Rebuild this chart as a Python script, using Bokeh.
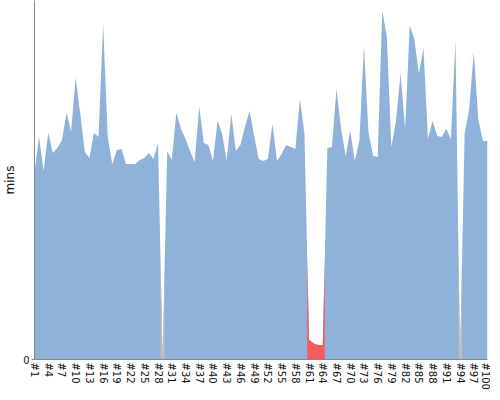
import numpy as np
from bokeh.plotting import figure
from bokeh.models import Range1d, FixedTicker
from bokeh.embed import file_html
from bokeh.resources import INLINE

# ---- data -------------------------------------------------------------
runs = list(range(1, 101))
mins = [
    18.7, 22.2, 18.8, 22.6, 20.6, 21.1, 21.9, 24.6, 22.7, 28.1,
    24.5, 20.7, 20.1, 22.6, 22.2, 33.5, 22.2, 19.5, 20.9, 21.0,
    19.5, 19.5, 19.5, 19.9, 20.1, 20.6, 20.0, 21.6, 0.0, 20.8,
    19.9, 24.6, 23.0, 22.0, 20.8, 19.7, 25.2, 21.6, 21.4, 19.8,
    23.8, 22.5, 19.8, 24.5, 20.8, 21.4, 23.2, 24.8, 22.3, 20.0,
    19.8, 20.0, 23.5, 19.8, 20.5, 21.4, 21.2, 21.0, 26.0, 22.5,
    2.0, 1.6, 1.45, 1.43, 21.1, 21.2, 27.0, 23.0, 20.3, 22.8,
    19.8, 21.8, 31.3, 22.6, 20.3, 20.2, 34.8, 32.2, 21.2, 23.8,
    28.5, 23.0, 33.3, 32.0, 28.5, 31.1, 22.0, 23.8, 22.3, 22.2,
    23.0, 22.0, 31.8, 0.0, 22.5, 25.0, 30.7, 23.9, 21.8, 21.8,
]
tick_runs = [1, 4, 7, 10, 13, 16, 19, 22, 25, 28, 31, 34, 37, 40, 43, 46, 49,
             52, 55, 58, 61, 64, 67, 70, 73, 76, 79, 82, 85, 88, 91, 94, 97, 100]
tick_labels = ["#1", "#4", "#7", "#10", "#13", "#16", "#19", "#22", "#25", "#28",
               "#31", "#34", "#37", "#40", "#43", "#46", "#49", "#52", "#55", "#58",
               "#61", "#64", "#67", "#70", "#73", "#76", "#79", "#82", "#85", "#88",
               "#91", "#94", "#97", "#100"]
low_limit = 10.0   # below this the area is drawn red (or grey where the run is 0)

BLUE = "#8fb2db"
RED = "#f45b5b"
GREY = "#bdbdbd"

# ---- figure -----------------------------------------------------------
p = figure(width=490, height=392, output_backend="svg", toolbar_location=None,
           x_range=Range1d(1, 100), y_range=Range1d(0, 35.8),
           min_border_left=0, min_border_right=3, min_border_top=0, min_border_bottom=0)
p.outline_line_color = None
p.xgrid.visible = False
p.ygrid.visible = False
p.background_fill_color = "white"

x = np.array(runs, dtype=float)
y = np.array(mins, dtype=float)

p.varea(x=x, y1=0, y2=y, fill_color=BLUE, fill_alpha=1.0)

# low-value stretches, cut where the line crosses the limit
n = len(y)
low = y < low_limit
i = 0
while i < n:
    if low[i]:
        j = i
        while j + 1 < n and low[j + 1]:
            j += 1
        xs, ys = [], []
        if i > 0:
            f = (y[i - 1] - low_limit) / (y[i - 1] - y[i])
            xs.append(x[i - 1] + f)
            ys.append(low_limit)
        xs += list(x[i:j + 1])
        ys += list(y[i:j + 1])
        if j < n - 1:
            f = (low_limit - y[j]) / (y[j + 1] - y[j])
            xs.append(x[j] + f)
            ys.append(low_limit)
        colour = GREY if np.any(y[i:j + 1] == 0) else RED
        p.varea(x=xs, y1=0, y2=ys, fill_color=colour, fill_alpha=1.0)
        i = j + 1
    else:
        i += 1

# ---- axes -------------------------------------------------------------
xa = p.xaxis[0]
xa.ticker = FixedTicker(ticks=tick_runs)
xa.major_label_overrides = {t: l for t, l in zip(tick_runs, tick_labels)}
xa.major_label_orientation = "vertical"
xa.major_tick_out = 0
xa.major_tick_in = 0
xa.minor_tick_line_color = None
xa.major_label_standoff = 3
xa.axis_line_color = "#888888"
xa.major_label_text_font = "DejaVu Sans"
xa.major_label_text_font_size = "10px"
xa.major_label_text_color = "#111111"

ya = p.yaxis[0]
ya.ticker = FixedTicker(ticks=[0])
ya.major_tick_out = 3
ya.major_tick_in = 0
ya.major_tick_line_color = "#888888"
ya.minor_tick_line_color = None
ya.major_label_standoff = 2
ya.axis_line_color = "#888888"
ya.major_label_text_font = "DejaVu Sans"
ya.major_label_text_font_size = "10px"
ya.major_label_text_color = "#111111"
ya.axis_label = "mins"
ya.axis_label_text_font = "DejaVu Sans"
ya.axis_label_text_font_size = "12px"
ya.axis_label_text_font_style = "normal"
ya.axis_label_text_color = "#111111"
ya.axis_label_standoff = 3

open("out.html", "w").write(file_html(p, INLINE))
